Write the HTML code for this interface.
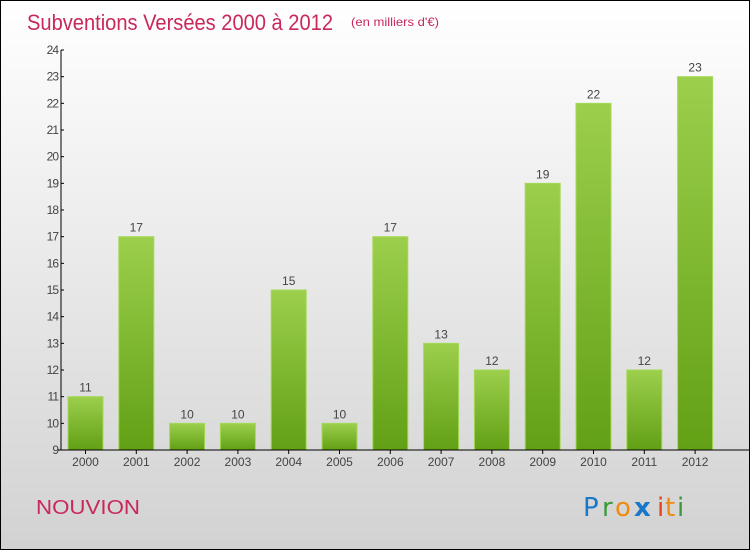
<!DOCTYPE html>
<html><head><meta charset="utf-8"><style>
body{margin:0;}
#wrap{position:relative;width:750px;height:550px;box-sizing:border-box;border:1px solid #000;background:linear-gradient(#ffffff,#d2d2d2);font-family:"Liberation Sans",sans-serif;overflow:hidden}
</style></head><body>
<div id="wrap">
<svg id="chart" width="750" height="550" style="position:absolute;left:-1px;top:-1px">
<defs><linearGradient id="g" x1="0" y1="0" x2="0" y2="1"><stop offset="0" stop-color="#9ccf4c"/><stop offset="1" stop-color="#62a015"/></linearGradient></defs>
<text x="27" y="30" font-size="22" fill="#c8285a" textLength="306" lengthAdjust="spacingAndGlyphs">Subventions Versées 2000 à 2012</text>
<text x="351" y="26" font-size="12" fill="#c8285a" textLength="88" lengthAdjust="spacingAndGlyphs">(en milliers d'€)</text>
<text x="36" y="514" font-size="20" fill="#c8285a" textLength="104" lengthAdjust="spacingAndGlyphs">NOUVION</text>
<g font-size="26" font-family="'DejaVu Sans',sans-serif">
<text x="583" y="516" fill="#1a78c8">P</text><text x="602" y="516" fill="#3a9a3a">r</text><text x="615" y="516" fill="#f08a10">o</text><text x="634" y="516" fill="#1a78c8" font-weight="bold">x</text><text x="657" y="516" fill="#e84020">i</text><text x="665" y="516" fill="#f08a10">t</text><text x="677" y="516" fill="#3a9a3a">i</text>
</g>
<g id="plot"></g>
</svg>
</div>
<script>
const categories=["2000","2001","2002","2003","2004","2005","2006","2007","2008","2009","2010","2011","2012"];
const values=[11,17,10,10,15,10,17,13,12,19,22,12,23];
const yTicks=[9,10,11,12,13,14,15,16,17,18,19,20,21,22,23,24];
const y0=450,y1=50,vmin=9,vmax=24,x0=61,xEnd=720;
const y=v=>y0-(v-vmin)*(y0-y1)/(vmax-vmin);
const x=i=>85.5+i*50.8;
const NS="http://www.w3.org/2000/svg",p=document.getElementById('plot');
function mk(t,a,txt){const e=document.createElementNS(NS,t);for(const k in a)e.setAttribute(k,a[k]);if(txt!=null)e.textContent=txt;p.appendChild(e);return e;}
values.forEach((v,i)=>{
 const r=mk('rect',{x:x(i)-17.5,y:y(v),width:35,height:y0-y(v),fill:'url(#g)',stroke:'#a6d85a','stroke-width':1});
 
 
 const t=mk('text',{x:x(i),y:y(v)-5,'text-anchor':'middle','font-size':12,fill:'#444'},v);
 
 
 const c=mk('text',{x:x(i),y:466,'text-anchor':'middle','font-size':12,fill:'#444'},categories[i]);
 
 
 const tk=mk('line',{x1:x(i),x2:x(i),y1:y0,y2:y0+4,stroke:'#000'});
 
 
});
yTicks.forEach(v=>{
 const t=mk('text',{x:x0-3,y:y(v)+4,'text-anchor':'end','font-size':12,fill:'#444','letter-spacing':'-1'},v);
 
 
 const l=mk('line',{x1:x0,x2:x0+3,y1:y(v),y2:y(v),stroke:'#000'});
 
 
});
const ya=mk('line',{x1:x0,x2:x0,y1:y1,y2:y0,stroke:'#000'});


const xa=mk('line',{x1:x0-3,x2:xEnd+30,y1:y0,y2:y0,stroke:'#000'});


</script>
</body></html>
